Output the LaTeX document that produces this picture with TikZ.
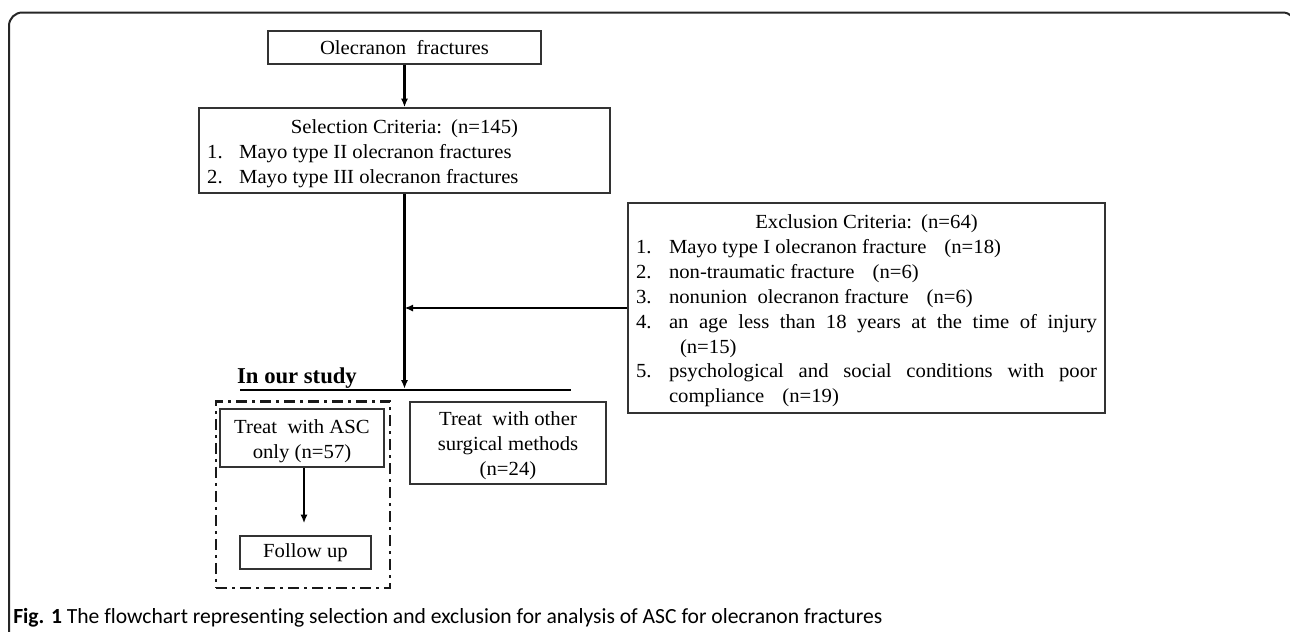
\documentclass[tikz,border=0pt]{standalone}
\usepackage{fontspec}
\usepackage{array}
\setmainfont{Liberation Serif}[FakeStretch=1.035]
\newfontfamily\studyfont{Liberation Serif}
\newfontfamily\capfont{Carlito}[Ligatures=NoCommon]
\usetikzlibrary{arrows.meta}
\newcommand\boxfont{\fontsize{15pt}{18.7pt}\selectfont}
\newcommand\dn[1]{\raisebox{0pt}[\dimexpr\height+4pt\relax][\depth]{#1}}
\tikzset{
  box/.style={draw=black!80, line width=1.2pt, inner sep=0pt, align=center, font=\boxfont},
  conn/.style={line width=1.7pt, -{Latex[length=6.5pt,width=5.5pt]}},
  studyline/.style={line width=2pt},
  groupbox/.style={draw=black!90, line width=2pt, dash pattern=on 8pt off 4pt on 2pt off 4pt},
  frame/.style={draw=black!85, line width=1.5pt, rounded corners=10pt},
}
\begin{document}
\begin{tikzpicture}[x=0.75pt,y=-0.75pt]
\useasboundingbox (0,0) rectangle (1290,632);
\begin{scope}
\clip (0,0) rectangle (1290,632);
\draw[frame] (9,640) -- (9,12.5) -- (1296,12.5) -- (1296,640);
\end{scope}

\node[box, minimum width=204.75pt, minimum height=24.75pt] (olec) at (404.5,47.5) {Olecranon\ \ fractures};

\node[box, minimum width=308.25pt, minimum height=63.75pt] (sel) at (404.5,150.5) {\dn{%
\begin{tabular}{@{}p{24pt}@{}p{272pt}@{}}
\multicolumn{2}{@{}c@{}}{Selection Criteria:\hspace{0.45em}(n=145)}\\
1. & Mayo type II olecranon fractures\\
2. & Mayo type III olecranon fractures
\end{tabular}}};

\node[box, minimum width=357.75pt, minimum height=157.5pt] (excl) at (866.5,308) {\dn{%
\begin{tabular}{@{}p{24.75pt}@{}p{321pt}@{}}
\multicolumn{2}{@{}c@{}}{Exclusion Criteria:\hspace{0.45em}(n=64)}\\
1. & Mayo type I olecranon fracture\hspace{0.9em}(n=18)\\
2. & non-traumatic fracture\hspace{0.9em}(n=6)\\
3. & nonunion\ \ olecranon fracture\hspace{0.9em}(n=6)\\
4. & an age less than 18 years at the time of injury\linebreak\hspace*{0.55em}(n=15)\\
5. & psychological and social conditions with poor\linebreak compliance\hspace{0.9em}(n=19)
\end{tabular}}};

\node[font=\studyfont\bfseries\fontsize{17pt}{20pt}\selectfont, anchor=base, inner sep=0pt] (study) at (297,383) {In our study};
\coordinate (L1) at (240,390);
\coordinate (L2) at (571,390);
\draw[studyline] (L1) -- (L2);
\coordinate (M) at (sel.south |- L1);

\node[groupbox, minimum width=130.5pt, minimum height=139.9pt] (grp) at (303,494.75) {};
\node[box, minimum width=123pt, minimum height=43.5pt] (asc) at (302,438) {\dn{\begin{tabular}{@{}c@{}}Treat\ \ with ASC\\only (n=57)\end{tabular}}};
\node[box, minimum width=98.25pt, minimum height=24.75pt] (fol) at (305.5,552.5) {Follow up};
\node[box, minimum width=147pt, minimum height=61.5pt] (oth) at (508,443) {\dn{\begin{tabular}{@{}c@{}}Treat\ \ with other\\surgical methods\\(n=24)\end{tabular}}};

\draw[conn] (olec.south) -- (sel.north);
\draw[conn, shorten >=1pt] (sel.south) -- (M);
\coordinate (J) at (sel.south |- excl.west);
\draw[conn] (excl.west) -- (J);
\draw[conn, shorten >=9pt] ([xshift=1.5pt]asc.south) -- ([xshift=1.5pt]asc.south |- fol.north);

\node[font=\capfont\fontsize{16.2pt}{19pt}\selectfont, anchor=base west, inner sep=0pt] (cap) at (13,623) {\textbf{Fig. 1} The flowchart representing selection and exclusion for analysis of ASC for olecranon fractures};
\end{tikzpicture}
\end{document}
